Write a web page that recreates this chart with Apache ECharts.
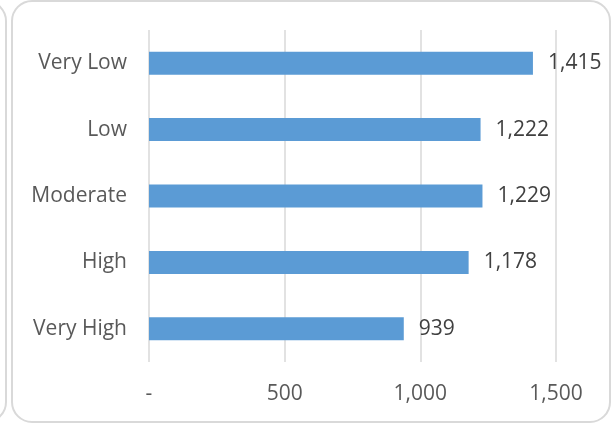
<!DOCTYPE html>
<html>
<head>
<meta charset="utf-8">
<script src="https://cdn.jsdelivr.net/npm/echarts@6/dist/echarts.min.js"></script>
<style>
html,body{margin:0;padding:0;background:#fff;}
#chart{width:614px;height:425px;}
</style>
</head>
<body>
<div id="chart"></div>
<script>
var categories = ['Very Low', 'Low', 'Moderate', 'High', 'Very High'];
var values = [1415, 1222, 1229, 1178, 939];
var tickValues = [0, 500, 1000, 1500];
var tickLabels = ['-', '500', '1,000', '1,500'];

function fmt(v) {
  return String(v).replace(/\B(?=(\d{3})+(?!\d))/g, ',');
}

var FONT = '"Open Sans", sans-serif';
var chart = echarts.init(document.getElementById('chart'), null, {renderer: 'canvas'});
chart.setOption({
  animation: false,
  backgroundColor: '#ffffff',
  graphic: [
    {type: 'rect', shape: {x: -594, y: 1, width: 600, height: 421, r: 20},
     style: {fill: 'none', stroke: '#d9d9d9', lineWidth: 2}, silent: true},
    {type: 'rect', shape: {x: 12, y: 1, width: 598, height: 421, r: 20},
     style: {fill: 'none', stroke: '#d9d9d9', lineWidth: 2}, silent: true}
  ],
  grid: {left: 149, right: 58, top: 30, bottom: 63, containLabel: false},
  xAxis: {
    type: 'value',
    min: 0, max: 1500, interval: 500,
    axisLine: {show: false},
    axisTick: {show: false},
    splitLine: {show: true, lineStyle: {color: '#d9d9d9', width: 1.5}},
    axisLabel: {
      color: '#595959', fontFamily: FONT, fontSize: 21, margin: 22,
      formatter: function (v) {
        var i = tickValues.indexOf(v);
        return i >= 0 ? tickLabels[i] : fmt(v);
      }
    }
  },
  yAxis: {
    type: 'category',
    data: categories,
    inverse: true,
    axisLine: {show: false},
    axisTick: {show: false},
    axisLabel: {color: '#595959', fontFamily: FONT, fontSize: 21, margin: 22}
  },
  series: [{
    type: 'bar',
    data: values,
    barWidth: 23,
    itemStyle: {color: '#5b9bd5'},
    label: {
      show: true, position: 'right', distance: 15,
      color: '#404040', fontFamily: FONT, fontSize: 21,
      formatter: function (p) { return fmt(p.value); }
    }
  }]
});
</script>
</body>
</html>
